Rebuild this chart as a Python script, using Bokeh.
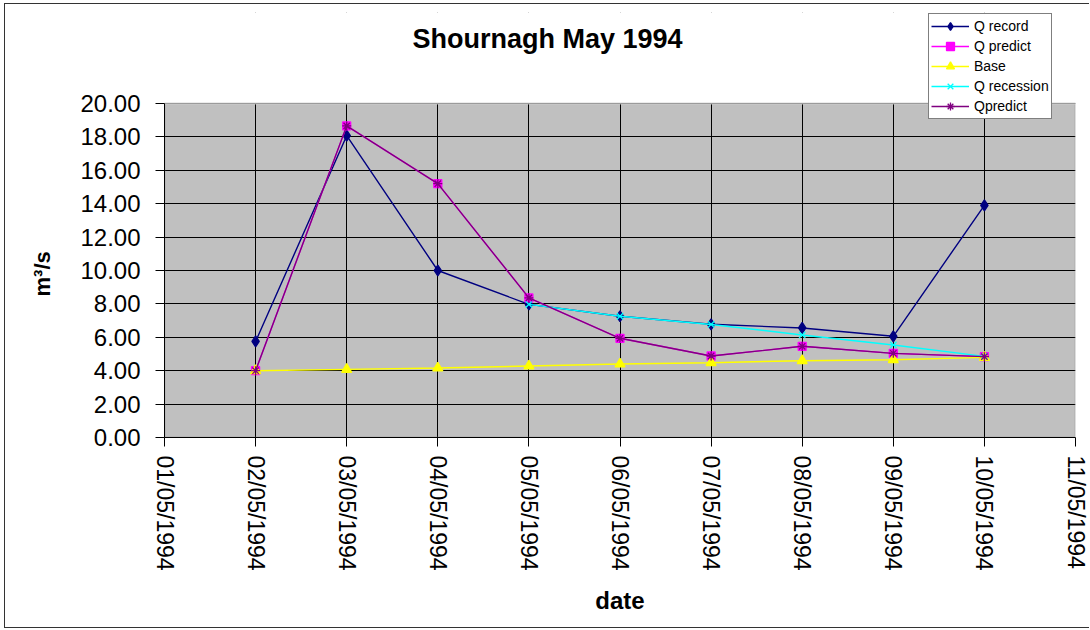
import math
import numpy as np
from bokeh.plotting import figure
from bokeh.models import (Range1d, FixedTicker, PrintfTickFormatter, BoxAnnotation,
                          Legend, LegendItem, Label, Title, ColumnDataSource)
from bokeh.embed import file_html
from bokeh.resources import INLINE

# ---------------- data ----------------
tick_labels = ["01/05/1994", "02/05/1994", "03/05/1994", "04/05/1994", "05/05/1994",
               "06/05/1994", "07/05/1994", "08/05/1994", "09/05/1994", "10/05/1994",
               "11/05/1994"]
dates = ["02/05/1994", "03/05/1994", "04/05/1994", "05/05/1994", "06/05/1994",
         "07/05/1994", "08/05/1994", "09/05/1994", "10/05/1994"]
q_record = [5.75, 18.07, 10.00, 7.97, 7.26, 6.78, 6.56, 6.06, 13.90]
q_predict = [4.00, 18.66, 15.20, 8.36, 5.94, 4.88, 5.46, 5.04, 4.84]
base = [4.00, 4.08, 4.16, 4.28, 4.40, 4.48, 4.60, 4.66, 4.80]
q_recession = [np.nan, np.nan, np.nan, 7.97, 7.26, 6.77, 6.14, 5.54, 4.86]
qpredict2 = [4.00, 18.66, 15.20, 8.36, 5.94, 4.88, 5.46, 5.04, 4.84]
y_ticks = [0, 2, 4, 6, 8, 10, 12, 14, 16, 18, 20]

x_pos = [tick_labels.index(d) for d in dates]
x_min, x_max = 0, len(tick_labels) - 1
y_min, y_max = y_ticks[0], y_ticks[-1]

FONT = "Liberation Sans"

# frame extends above the plot area so that the legend and title can overlap it
FRAME_H = 425
PLOT_H = 334
y_top = y_max * FRAME_H / PLOT_H

p = figure(width=1085, height=625, output_backend="svg", toolbar_location=None,
           x_range=Range1d(x_min, x_max), y_range=Range1d(y_min, y_top),
           min_border_left=159, min_border_top=8, min_border_right=15, min_border_bottom=192,
           background_fill_color="white", border_fill_color="white",
           outline_line_color=None)
p.margin = (3, 0, 0, 4)
p.styles = {"border-left": "1px solid #333333", "border-top": "1px solid #333333",
            "border-bottom": "1px solid #333333"}

# grey plot area (drawn below the grid)
p.quad(left=[x_min], right=[x_max], bottom=[y_min], top=[y_max],
       fill_color="#C0C0C0", line_color=None, level="image")

# axes
p.xaxis.ticker = FixedTicker(ticks=list(range(len(tick_labels))))
p.xaxis.major_label_overrides = {i: lbl for i, lbl in enumerate(tick_labels)}
p.xaxis.major_label_orientation = -math.pi / 2
p.yaxis.ticker = FixedTicker(ticks=y_ticks)
p.yaxis.formatter = PrintfTickFormatter(format="%.2f")
p.yaxis.bounds = (y_min, y_max)
for ax in (p.xaxis, p.yaxis):
    ax.axis_line_color = "black"
    ax.major_tick_line_color = "black"
    ax.minor_tick_line_color = None
    ax.major_tick_out = 9
    ax.major_tick_in = 0
    ax.major_label_text_font = FONT
    ax.major_label_text_color = "black"
    ax.axis_label_text_font = FONT
    ax.axis_label_text_font_style = "bold"
    ax.axis_label_text_color = "black"
p.xaxis.major_label_text_font_size = "23px"
p.yaxis.major_label_text_font_size = "24px"
p.xaxis.major_label_standoff = 9
p.yaxis.major_label_standoff = 15
p.xaxis.axis_label = "date"
p.xaxis.axis_label_text_font_size = "24px"
p.xaxis.axis_label_standoff = 13

# y-axis title, centred on the grey plot area rather than on the whole frame
ytitle = Title(text="m³/s", align="left", offset=141, standoff=44, vertical_align="middle",
               text_font=FONT, text_font_size="22px", text_font_style="bold",
               text_color="black")
p.add_layout(ytitle, "left")

p.xgrid.grid_line_color = "black"
p.ygrid.grid_line_color = "black"
p.xgrid.grid_line_width = 1
p.ygrid.grid_line_width = 1

# hide grid above the plot area, then draw the plot-area border
p.add_layout(BoxAnnotation(bottom=y_max, fill_color="white", fill_alpha=1.0,
                           line_color="white", line_width=3, level="underlay"))
p.add_layout(BoxAnnotation(left=x_min, right=x_max, bottom=y_min, top=y_max,
                           fill_color=None, line_color="#808080", line_width=2,
                           level="underlay"))

src = ColumnDataSource(dict(x=x_pos, rec=q_record, pred=q_predict, base=base,
                            recess=q_recession, pred2=qpredict2))

series = [
    ("Q record", "rec", "#000080", "diamond", 11),
    ("Q predict", "pred", "#FF00FF", "square", 8),
    ("Base", "base", "#FFFF00", "triangle", 10),
    ("Q recession", "recess", "#00FFFF", "x", 9),
    ("Qpredict", "pred2", "#800080", "asterisk", 9),
]
items = []
for label, col, color, marker, size in series:
    ln = p.line("x", col, source=src, line_color=color, line_width=1.4)
    sc = p.scatter("x", col, source=src, marker=marker, size=size,
                   fill_color=color, line_color=color, line_width=1.3)
    items.append(LegendItem(label=label, renderers=[ln, sc]))

title = Label(x=383, y=399, x_units="screen", y_units="screen", text="Shournagh May 1994",
              text_align="center", text_baseline="middle", text_font=FONT,
              text_font_size="27px", text_font_style="bold", text_color="black")
p.add_layout(title)

legend = Legend(items=items, location=(764, 318), orientation="vertical",
                label_text_font=FONT, label_text_font_size="14px", label_text_color="black",
                glyph_width=38, glyph_height=20, label_height=20, spacing=0, padding=2,
                margin=0, label_standoff=5,
                border_line_color="black", border_line_width=1,
                background_fill_color="white", background_fill_alpha=1.0)
p.add_layout(legend)

open("out.html", "w").write(file_html(p, INLINE))
